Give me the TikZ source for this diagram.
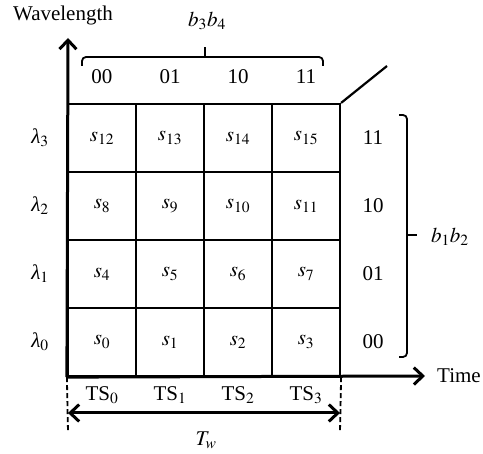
\documentclass[tikz,border=0pt]{standalone}
\usepackage{mathptmx}
\usepackage{fontspec}
\setmainfont{Liberation Serif}
\usetikzlibrary{arrows.meta}
\newcommand{\wl}[1]{\textit{λ}$_{#1}$}
\tikzset{
  cell/.style={draw, line width=2.2pt, minimum size=68pt, inner sep=0pt},
  axis/.style={line width=3pt},
  brack/.style={line width=1.8pt},
  tip/.style={-{Straight Barb[length=9pt,width=17pt,line width=3pt]}},
}
\begin{document}
\begin{tikzpicture}[x=1pt, y=-1pt, font=\fontsize{21}{25}\selectfont]
    \useasboundingbox (0,0) rectangle (483,454);
    % slots
    \node[cell] (s12) at (102,138) {$s_{12}$};
    \node[cell] (s13) at (170,138) {$s_{13}$};
    \node[cell] (s14) at (238,138) {$s_{14}$};
    \node[cell] (s15) at (306,138) {$s_{15}$};
    \node[cell] (s8) at (102,206) {$s_{8}$};
    \node[cell] (s9) at (170,206) {$s_{9}$};
    \node[cell] (s10) at (238,206) {$s_{10}$};
    \node[cell] (s11) at (306,206) {$s_{11}$};
    \node[cell] (s4) at (102,274) {$s_{4}$};
    \node[cell] (s5) at (170,274) {$s_{5}$};
    \node[cell] (s6) at (238,274) {$s_{6}$};
    \node[cell] (s7) at (306,274) {$s_{7}$};
    \node[cell] (s0) at (102,342) {$s_{0}$};
    \node[cell] (s1) at (170,342) {$s_{1}$};
    \node[cell] (s2) at (238,342) {$s_{2}$};
    \node[cell] (s3) at (306,342) {$s_{3}$};
    % axes
    \coordinate (O) at (s0.south west);
    \coordinate (W) at (68,38);
    \coordinate (T) at (425,376);
    \draw[axis,tip] (O) -- (W);
    \draw[axis,tip] (O) -- (T);
    \node[anchor=west,inner sep=0pt] (time) at (437,376) {Time};
    \node (wlabel) at (63,15) {Wavelength};
    \draw[cell] (s15.north east) -- (387,66);
    % wavelengths
    \node (l3) at (40,138) {\wl{3}};
    \node (l2) at (40,206) {\wl{2}};
    \node (l1) at (40,274) {\wl{1}};
    \node (l0) at (40,342) {\wl{0}};
    % b3b4
    \node (c0) at (102,77) {00};
    \node (c1) at (170,77) {01};
    \node (c2) at (238,77) {10};
    \node (c3) at (306,77) {11};
    \draw[brack, rounded corners=4pt] (82,66) -- (82,57) -- (323,57) -- (323,66);
    \draw[brack] (205,57) -- (205,47);
    \node (b34) at (207,21) {$b_3b_4$};
    % b1b2
    \node (r3) at (373,138) {11};
    \node (r2) at (373,206) {10};
    \node (r1) at (373,274) {01};
    \node (r0) at (373,342) {00};
    \draw[brack, rounded corners=4pt] (399,115) -- (407,115) -- (407,357) -- (399,357);
    \draw[brack] (407,235) -- (417,235);
    \node[anchor=west,inner sep=0pt] (b12) at (431,237) {$b_1b_2$};
    % time slots
    \node (ts0) at (102,395) {TS$_0$};
    \node (ts1) at (170,395) {TS$_1$};
    \node (ts2) at (238,395) {TS$_2$};
    \node (ts3) at (306,395) {TS$_3$};
    \coordinate (dl) at (68,432);
    \coordinate (dr) at (340,432);
    \draw[brack, dash pattern=on 5pt off 3pt] (O) -- (dl);
    \draw[brack, dash pattern=on 5pt off 3pt] (s3.south east) -- (dr);
    \coordinate (al) at (68,413);
    \coordinate (ar) at (340,413);
    \draw[axis, {Straight Barb[length=9pt,width=17pt,line width=3pt]}-{Straight Barb[length=9pt,width=17pt,line width=3pt]}] (al) -- (ar);
    \node (tw) at (206,440) {$T_w$};
\end{tikzpicture}
\end{document}
